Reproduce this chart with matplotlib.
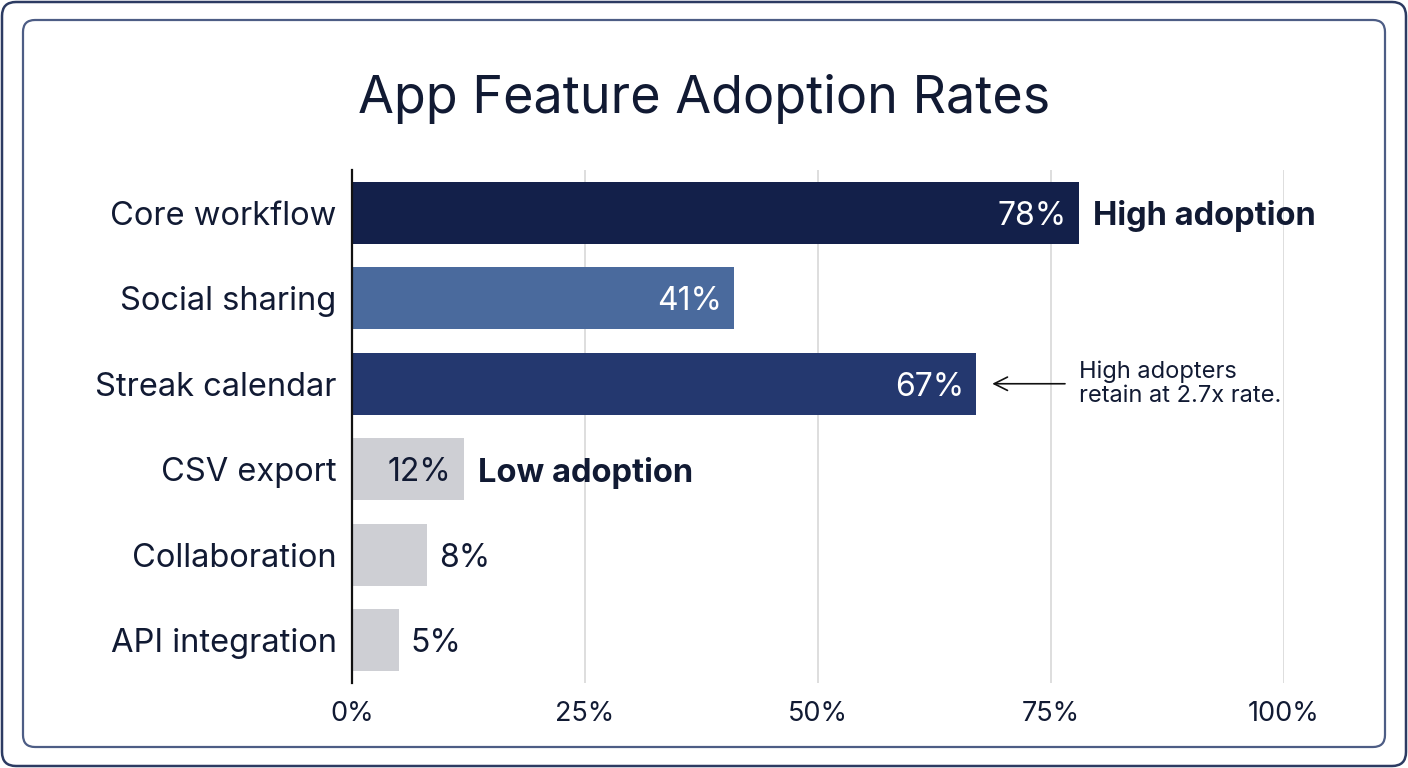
import matplotlib.pyplot as plt
from matplotlib.patches import FancyBboxPatch
from matplotlib.transforms import IdentityTransform

# data
features = ['Core workflow', 'Social sharing', 'Streak calendar', 'CSV export', 'Collaboration', 'API integration']
adoption = [78, 41, 67, 12, 8, 5]
bar_colors = ['#13204a', '#4a6a9d', '#24386f', '#cecfd4', '#cecfd4', '#cecfd4']
xticks = [0, 25, 50, 75, 100]
xtick_labels = ['0%', '25%', '50%', '75%', '100%']

TXT = '#111a33'
plt.rcParams['font.family'] = ['Inter', 'DejaVu Sans']

fig = plt.figure(figsize=(14.08, 7.68), dpi=100)
W, H = 1408, 768

# frames (pixel coords)
outer = FancyBboxPatch((2, 2), W - 4, H - 4, boxstyle='round,pad=0,rounding_size=14',
                       transform=IdentityTransform(), fill=False, edgecolor='#2c3b62', linewidth=1.8)
inner = FancyBboxPatch((23, H - 747), 1362, 727, boxstyle='round,pad=0,rounding_size=12',
                       transform=IdentityTransform(), fill=False, edgecolor='#4d5d85', linewidth=1.6)
fig.add_artist(outer)
fig.add_artist(inner)

ax = fig.add_axes([352 / W, 1 - 683 / H, (1284 - 352) / W, (683 - 170) / H])
ypos = range(len(features))
ax.barh(ypos, adoption, height=0.72, color=bar_colors, zorder=2)
ax.set_xlim(0, 100)
ax.set_ylim(len(features) - 0.5, -0.5)

ax.set_yticks(list(ypos))
ax.set_yticklabels(features, fontsize=23.5, color=TXT)
ax.set_xticks(xticks)
ax.set_xticklabels(xtick_labels, fontsize=19.5, color=TXT)
ax.tick_params(axis='y', length=0, pad=11)
ax.tick_params(axis='x', length=0, pad=13)

for x in xticks[1:]:
    ax.axvline(x, color='#d8d8d8', linewidth=1.2, zorder=1)

for s in ['top', 'right', 'bottom']:
    ax.spines[s].set_visible(False)
ax.spines['left'].set_color('#111111')
ax.spines['left'].set_linewidth(1.6)
ax.spines['left'].set_zorder(3)

# value labels
for i, v in enumerate(adoption):
    if v >= 40:
        ax.text(v - 1.3, i, f'{v}%', ha='right', va='center_baseline', fontsize=23, color='white', zorder=4)
    elif v >= 10:
        ax.text(v - 1.3, i, f'{v}%', ha='right', va='center_baseline', fontsize=23, color=TXT, zorder=4)
    else:
        ax.text(v + 1.3, i, f'{v}%', ha='left', va='center_baseline', fontsize=23, color=TXT, zorder=4)

ax.text(adoption[0] + 1.5, 0, 'High adoption', ha='left', va='center_baseline', fontsize=23.5,
        fontweight='bold', color=TXT)
ax.text(adoption[3] + 1.5, 3, 'Low adoption', ha='left', va='center_baseline', fontsize=23.5,
        fontweight='bold', color=TXT)

ax.annotate('', xy=(adoption[2] + 1.4, 2), xytext=(76.8, 2),
            arrowprops=dict(arrowstyle='->', color='#111111', lw=1.2, mutation_scale=24))
ax.text(78.0, 2, 'High adopters\nretain at 2.7x rate.', ha='left', va='center', fontsize=17,
        color=TXT, linespacing=1.1)

fig.text(0.5, 1 - 113 / H, 'App Feature Adoption Rates', ha='center', va='baseline',
         fontsize=37.5, color=TXT)

fig.savefig('out.png', dpi=100)
